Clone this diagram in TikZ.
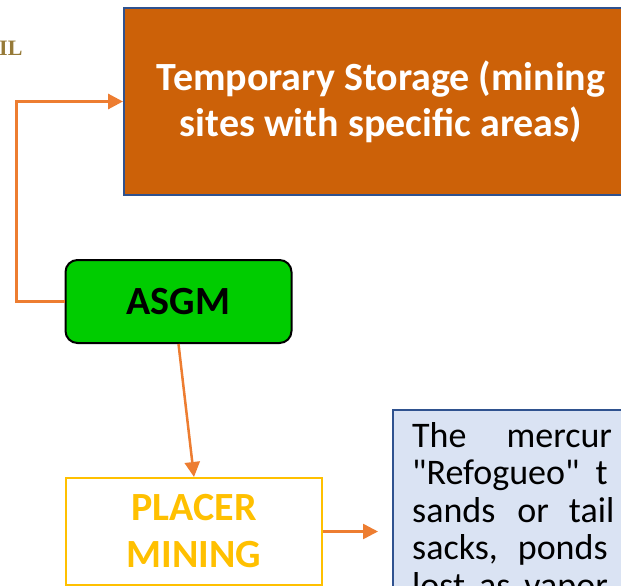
\documentclass[tikz,border=0pt]{standalone}
\usepackage{fontspec}
\setmainfont{Carlito}[Ligatures=TeXOff]
\newfontfamily\ilfont{Liberation Serif}
\usetikzlibrary{arrows.meta}
\definecolor{storeorange}{RGB}{204,97,8}
\definecolor{boxblue}{RGB}{47,82,143}
\definecolor{flowline}{RGB}{237,125,49}
\definecolor{asgmgreen}{RGB}{0,204,0}
\definecolor{placergold}{RGB}{255,192,0}
\definecolor{notefill}{RGB}{218,227,243}
\definecolor{ilgold}{RGB}{150,122,56}

\begin{document}
\begin{tikzpicture}[x=1pt,y=-1pt]
	\tikzstyle{box}=[rectangle,inner sep=0pt]
	\tikzstyle{flow}=[draw=flowline,line width=2.5pt,-{Triangle[length=15pt,width=15pt]}]
	\useasboundingbox (0,0) rectangle (621,586);
	\clip (0,0) rectangle (621,586);
	\node[anchor=base east,text=ilgold,font=\ilfont\bfseries\fontsize{22}{24}\selectfont] (il) at (26,56) {IL};
	\node[box,draw=boxblue,line width=2pt,fill=storeorange,minimum width=514pt,minimum height=187pt,text=white,align=center,font=\bfseries\fontsize{40}{46}\selectfont] (storage) at (381,101.5) {Temporary Storage (mining\\sites with specific areas)};
	\node[box,draw=black,line width=2pt,fill=asgmgreen,rounded corners=12pt,minimum width=226pt,minimum height=83pt,font=\bfseries\fontsize{40}{46}\selectfont] (asgm) at (178.5,301.5) {ASGM};
	\node[box,draw=placergold,line width=2pt,fill=white,minimum width=256pt,minimum height=107pt,text=placergold,align=center,font=\bfseries\fontsize{40}{47}\selectfont] (placer) at (194,531.5) {PLACER\\MINING};
	\node[box,draw=boxblue,line width=1.5pt,fill=notefill,anchor=north west,minimum width=300pt,minimum height=250pt] (note) at (392,409) {};
	\node[anchor=base west,inner sep=0pt,align=left,font=\fontsize{36}{37.5}\selectfont] (notetext) at (412,597) {The\hspace{40pt}mercur\\"Refogueo"\hspace{16pt}t\\sands\hspace{22pt}or\hspace{20pt}tail\\sacks,\hspace{20pt}ponds\\lost\hspace{14pt}as\hspace{14pt}vapor};
	\draw[flow,line width=3pt] (asgm.west) -- ++(-48,0) |- (storage.west);
	\draw[flow] (asgm.south) -- (placer.north);
	\draw[flow,shorten >=14pt] (placer.east) -- (placer.east -| note.west);
\end{tikzpicture}
\end{document}
